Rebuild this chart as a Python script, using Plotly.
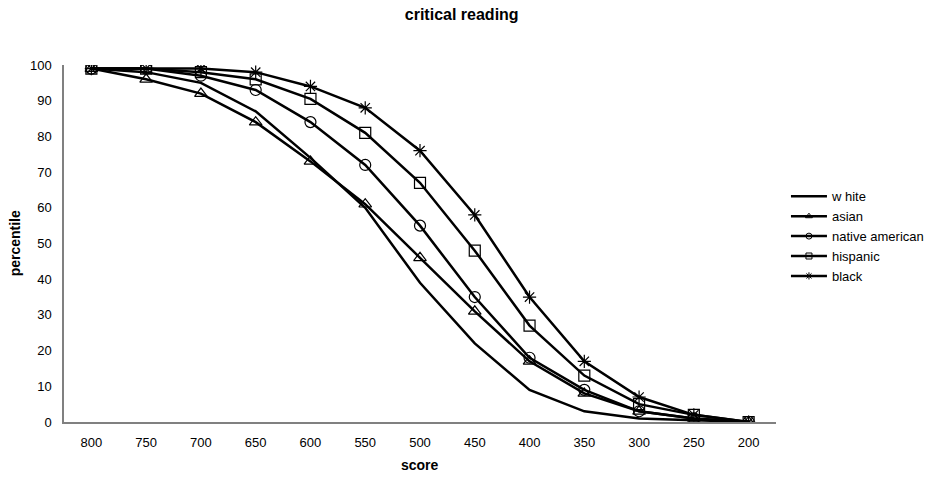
import plotly.graph_objects as go

scores = ["800", "750", "700", "650", "600", "550", "500", "450", "400", "350", "300", "250", "200"]
white = [99, 98, 95, 87, 74, 60, 39, 22, 9, 3, 1, 0.5, 0]
asian = [99, 96, 92, 84, 73, 61, 46, 31, 17, 8, 3, 1, 0]
native_american = [99, 99, 97, 93, 84, 72, 55, 35, 18, 9, 3, 1, 0]
hispanic = [99, 99, 98, 96, 90.5, 81, 67, 48, 27, 13, 5, 2, 0]
black = [99, 99, 99, 98, 94, 88, 76, 58, 35, 17, 7, 2, 0]

series = [
    ("w hite", white, None),
    ("asian", asian, "triangle-up-open"),
    ("native american", native_american, "circle-open"),
    ("hispanic", hispanic, "square-open"),
    ("black", black, "asterisk-open"),
]

FONT = "Liberation Sans, Arial, sans-serif"
fig = go.Figure()
for name, vals, sym in series:
    if sym is None:
        fig.add_trace(go.Scatter(x=scores, y=vals, name=name, mode="lines",
                                 line=dict(color="black", width=2.5), showlegend=False))
    else:
        fig.add_trace(go.Scatter(x=scores, y=vals, name=name, mode="lines+markers",
                                 line=dict(color="black", width=2.5), showlegend=False,
                                 marker=dict(symbol=sym, size=11, color="black",
                                             line=dict(color="black", width=1.2))))
# legend entries with small markers, as in the reference
for name, vals, sym in series:
    fig.add_trace(go.Scatter(x=[None], y=[None], name=name,
                             mode="lines" if sym is None else "lines+markers",
                             line=dict(color="black", width=2.5),
                             marker=dict(symbol=sym or "circle", size=6, color="black",
                                         line=dict(color="black", width=1))))

fig.update_layout(
    width=929, height=479,
    margin=dict(l=64, r=153, t=65, b=57, autoexpand=False),
    paper_bgcolor="white", plot_bgcolor="white",
    font=dict(family=FONT, size=13, color="black"),
    title=dict(text="<b>critical reading</b>", x=0.497, xanchor="center", xref="container",
               y=0.969, yanchor="middle",
               font=dict(family=FONT, size=16, color="black")),
    showlegend=True,
    legend=dict(x=1.014, xanchor="left", y=0.52, yanchor="middle",
                font=dict(family=FONT, size=13, color="black"),
                itemwidth=36, tracegroupgap=0, bgcolor="rgba(0,0,0,0)"),
    xaxis=dict(type="category", range=[-0.5, 12.5], showgrid=False, automargin=False,
               showline=True, linecolor="#808080", linewidth=1.5,
               ticks="", ticklabelstandoff=8,
               tickfont=dict(family=FONT, size=13, color="black")),
    yaxis=dict(range=[0, 100], dtick=10, showgrid=False, zeroline=False, automargin=False,
               showline=True, linecolor="#808080", linewidth=1.5,
               ticks="", ticklabelstandoff=8,
               tickfont=dict(family=FONT, size=13, color="black")),
    annotations=[
        dict(text="<b>score</b>", xref="paper", yref="paper", x=0.5, y=-0.12,
             xanchor="center", yanchor="middle", showarrow=False,
             font=dict(family=FONT, size=14, color="black")),
        dict(text="<b>percentile</b>", xref="paper", yref="paper", x=-0.069, y=0.5,
             xanchor="center", yanchor="middle", textangle=-90, showarrow=False,
             font=dict(family=FONT, size=14, color="black")),
    ],
)

fig.write_html("out.html")
